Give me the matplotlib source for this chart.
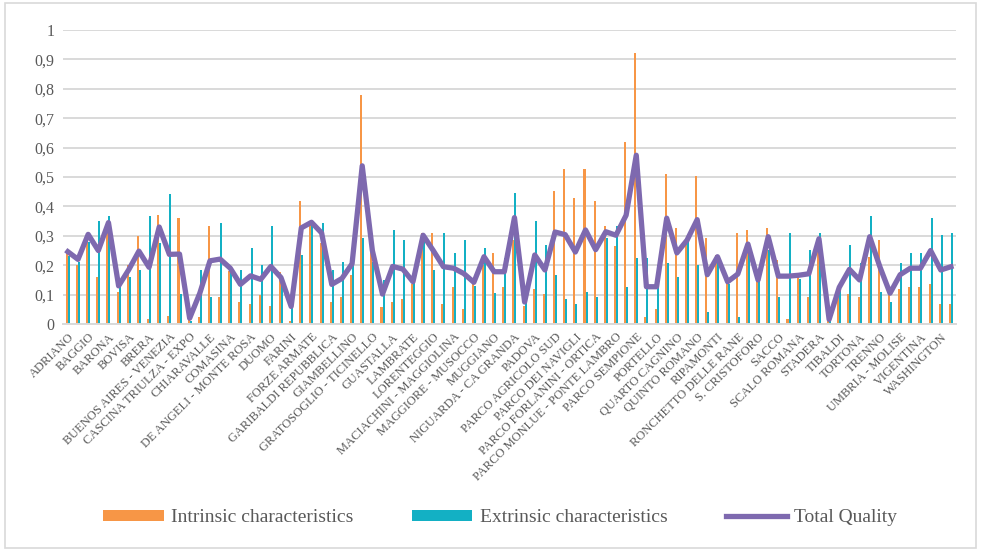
import numpy as np
import matplotlib
matplotlib.use("Agg")
import matplotlib.pyplot as plt
from matplotlib.patches import Rectangle

# Milan NIL districts (88), only every other one is labelled on the axis
districts = [
    "ADRIANO", "AFFORI", "BAGGIO", "BANDE NERE", "BARONA", "BICOCCA", "BOVISA", "BOVISASCA",
    "BRERA", "BRUZZANO", "BUENOS AIRES - VENEZIA", "CANTALUPA", "CASCINA TRIULZA - EXPO",
    "CENTRALE", "CHIARAVALLE", "CITTA' STUDI", "COMASINA", "CORSICA", "DE ANGELI - MONTE ROSA",
    "DERGANO", "DUOMO", "EX OM - MORIVIONE", "FARINI", "FIGINO", "FORZE ARMATE", "GALLARATESE",
    "GARIBALDI REPUBBLICA", "GHISOLFA", "GIAMBELLINO", "GIARDINI PORTA VENEZIA",
    "GRATOSOGLIO - TICINELLO", "GRECO", "GUASTALLA", "ISOLA", "LAMBRATE", "LODI - CORVETTO",
    "LORENTEGGIO", "LORETO", "MACIACHINI - MAGGIOLINA", "MAGENTA - S. VITTORE",
    "MAGGIORE - MUSOCCO", "MECENATE", "MUGGIANO", "NAVIGLI", "NIGUARDA - CA GRANDA",
    "ORTOMERCATO", "PADOVA", "PAGANO", "PARCO AGRICOLO SUD", "PARCO BOSCO IN CITTA'",
    "PARCO DEI NAVIGLI", "PARCO DELLE ABBAZIE", "PARCO FORLANINI - ORTICA",
    "PARCO LAMBRO - CIMIANO", "PARCO MONLUE - PONTE LAMBRO", "PARCO NORD", "PARCO SEMPIONE",
    "PORTA ROMANA", "PORTELLO", "QT 8", "QUARTO CAGNINO", "QUARTO OGGIARO", "QUINTO ROMANO",
    "QUINTOSOLE", "RIPAMONTI", "ROGOREDO", "RONCHETTO DELLE RANE", "RONCHETTO SUL NAVIGLIO",
    "S. CRISTOFORO", "S. SIRO", "SACCO", "SARPI", "SCALO ROMANA", "SELINUNTE", "STADERA",
    "STADIO - IPPODROMI", "TIBALDI", "TICINESE", "TORTONA", "TRE TORRI", "TRENNO",
    "TRIULZO SUPERIORE", "UMBRIA - MOLISE", "VIALE MONZA", "VIGENTINA", "VILLAPIZZONE",
    "WASHINGTON", "XXII MARZO",
]

intrinsic = [
    0.25, 0.20, 0.29, 0.16, 0.32, 0.11, 0.20, 0.30, 0.017, 0.37,
    0.027, 0.36, 0.018, 0.025, 0.335, 0.093, 0.18, 0.076, 0.068, 0.10,
    0.06, 0.176, 0.01, 0.418, 0.34, 0.277, 0.076, 0.093, 0.167, 0.779,
    0.29, 0.059, 0.076, 0.084, 0.136, 0.31, 0.308, 0.068, 0.127, 0.051,
    0.145, 0.20, 0.243, 0.125, 0.286, 0.06, 0.118, 0.101, 0.452, 0.527,
    0.427, 0.527, 0.418, 0.334, 0.265, 0.62, 0.92, 0.025, 0.05, 0.51,
    0.325, 0.28, 0.503, 0.294, 0.235, 0.15, 0.308, 0.32, 0.145, 0.325,
    0.218, 0.017, 0.175, 0.093, 0.265, 0.02, 0.11, 0.102, 0.093, 0.229,
    0.286, 0.13, 0.118, 0.127, 0.127, 0.135, 0.068, 0.068,
]

extrinsic = [
    0.23, 0.21, 0.28, 0.351, 0.367, 0.127, 0.161, 0.184, 0.367, 0.277,
    0.443, 0.101, 0.012, 0.184, 0.093, 0.343, 0.18, 0.184, 0.26, 0.20,
    0.334, 0.14, 0.116, 0.235, 0.345, 0.342, 0.184, 0.21, 0.24, 0.293,
    0.21, 0.15, 0.32, 0.286, 0.15, 0.29, 0.184, 0.308, 0.24, 0.286,
    0.13, 0.257, 0.107, 0.225, 0.444, 0.09, 0.351, 0.269, 0.167, 0.084,
    0.068, 0.11, 0.093, 0.294, 0.335, 0.127, 0.226, 0.226, 0.2, 0.209,
    0.161, 0.285, 0.2, 0.042, 0.225, 0.136, 0.025, 0.24, 0.155, 0.252,
    0.093, 0.308, 0.152, 0.252, 0.31, 0.01, 0.14, 0.269, 0.209, 0.367,
    0.108, 0.075, 0.209, 0.243, 0.243, 0.36, 0.303, 0.308,
]

total_quality = [
    0.246, 0.22, 0.305, 0.25, 0.345, 0.13, 0.185, 0.248, 0.193, 0.33,
    0.237, 0.238, 0.02, 0.105, 0.215, 0.221, 0.19, 0.135, 0.164, 0.152,
    0.196, 0.158, 0.06, 0.327, 0.346, 0.31, 0.135, 0.155, 0.205, 0.538,
    0.25, 0.102, 0.196, 0.187, 0.144, 0.302, 0.25, 0.195, 0.19, 0.172,
    0.142, 0.229, 0.178, 0.178, 0.362, 0.075, 0.235, 0.184, 0.313, 0.304,
    0.245, 0.32, 0.253, 0.314, 0.302, 0.37, 0.574, 0.127, 0.127, 0.36,
    0.242, 0.285, 0.355, 0.168, 0.229, 0.144, 0.17, 0.272, 0.15, 0.297,
    0.163, 0.163, 0.166, 0.171, 0.29, 0.016, 0.125, 0.186, 0.15, 0.297,
    0.195, 0.105, 0.168, 0.19, 0.19, 0.25, 0.184, 0.195,
]

y_ticks = [0, 0.1, 0.2, 0.3, 0.4, 0.5, 0.6, 0.7, 0.8, 0.9, 1]
y_tick_labels = ["0", "0,1", "0,2", "0,3", "0,4", "0,5", "0,6", "0,7", "0,8", "0,9", "1"]

ORANGE = "#F79646"
TEAL = "#13B0C4"
PURPLE = "#7E69AF"
GREY_TEXT = "#595959"

plt.rcParams["font.family"] = ["Liberation Serif", "DejaVu Serif"]

fig = plt.figure(figsize=(9.81, 5.54), dpi=100)
ax = fig.add_axes([0.064, 0.415, 0.9105, 0.531])

x = np.arange(len(districts))
w = 0.2
b1 = ax.bar(x - w / 2, intrinsic, width=w, color=ORANGE, label="Intrinsic characteristics", zorder=2)
b2 = ax.bar(x + w / 2, extrinsic, width=w, color=TEAL, label="Extrinsic characteristics", zorder=2)
l1, = ax.plot(x, total_quality, color=PURPLE, linewidth=3.8, solid_joinstyle="round",
              label="Total Quality", zorder=3)

ax.set_xlim(-0.5, len(districts) - 0.5)
ax.set_ylim(0, 1)
ax.set_yticks(y_ticks)
ax.set_yticklabels(y_tick_labels, fontsize=11.5, color=GREY_TEXT)
ax.grid(axis="y", color="#D9D9D9", linewidth=1.4, zorder=0)
ax.set_axisbelow(True)

# only every other category gets a label, like the original
ax.set_xticks(x[::2])
ax.set_xticklabels(districts[::2], rotation=45, ha="right", rotation_mode="anchor",
                   fontsize=9, color=GREY_TEXT)
ax.tick_params(axis="both", length=0, pad=6)
ax.tick_params(axis="x", pad=5)

for side in ["top", "right", "left"]:
    ax.spines[side].set_visible(False)
ax.spines["bottom"].set_color("#D9D9D9")
ax.spines["bottom"].set_linewidth(1.4)

leg = fig.legend(handles=[b1, b2, l1], loc="center", bbox_to_anchor=(0.51, 0.065), ncol=3,
                 frameon=False, fontsize=14, handlelength=3.1, handleheight=0.5,
                 columnspacing=3.0, handletextpad=0.4)
for t in leg.get_texts():
    t.set_color(GREY_TEXT)

# outer chart border
fig.patches.append(Rectangle((0.005, 0.01), 0.99, 0.985, transform=fig.transFigure,
                             fill=False, edgecolor="#D9D9D9", linewidth=1.2))

fig.savefig("out.png", dpi=100)
